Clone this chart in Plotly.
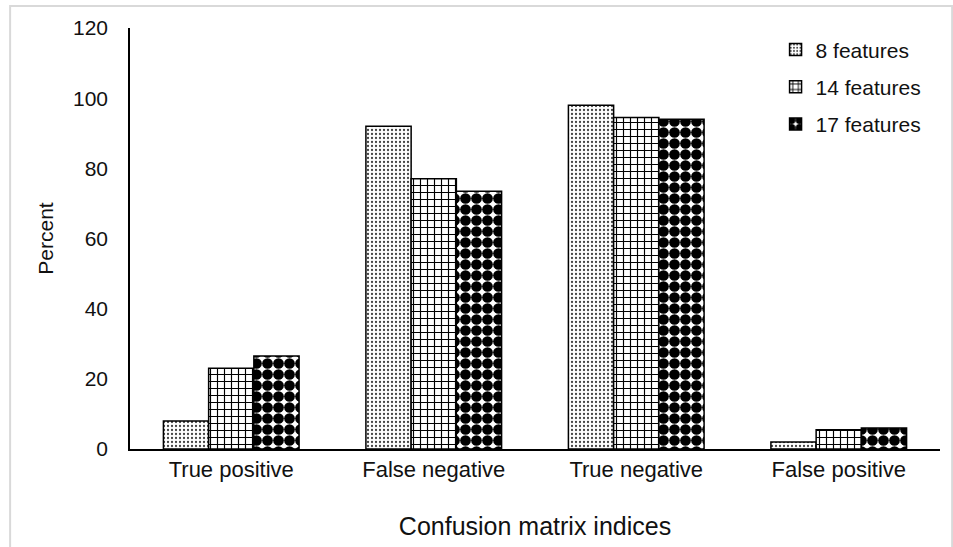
import plotly.graph_objects as go

categories = ["True positive", "False negative", "True negative", "False positive"]
series_names = ["8 features", "14 features", "17 features"]
vals_8 = [8, 92, 98, 2]
vals_14 = [23, 77, 94.5, 5.5]
vals_17 = [26.5, 73.5, 94, 6]
y_ticks = [0, 20, 40, 60, 80, 100, 120]

patterns = [
    dict(shape=".", fgcolor="#444444", bgcolor="white", size=4, solidity=0.25, fgopacity=1),
    dict(shape="+", fgcolor="black", bgcolor="white", size=7, solidity=0.3, fgopacity=1),
    dict(shape=".", fgcolor="black", bgcolor="white", size=11, solidity=0.75, fgopacity=1),
]

fig = go.Figure()
for i, (name, vals) in enumerate(zip(series_names, [vals_8, vals_14, vals_17])):
    fig.add_trace(go.Bar(
        x=categories, y=vals, name=name, legendgroup=name,
        marker=dict(color="white", pattern=patterns[i],
                    line=dict(color="black", width=1.5)),
    ))

font = "Liberation Sans, Arial, sans-serif"
fig.update_layout(
    width=953, height=547,
    margin=dict(l=130, r=13, t=28, b=98),
    paper_bgcolor="white", plot_bgcolor="white",
    barmode="group", bargap=0.33, bargroupgap=0,
    font=dict(family=font, size=21, color="#111111"),
    showlegend=True,
    legend=dict(x=0.797, y=0.997, xanchor="left", yanchor="top",
                font=dict(size=21), tracegroupgap=7,
                bgcolor="rgba(0,0,0,0)"),
    xaxis=dict(showline=True, linecolor="black", linewidth=1.5,
               showgrid=False, ticks="", tickfont=dict(size=22),
               title=dict(text="Confusion matrix indices", font=dict(size=25), standoff=36)),
    yaxis=dict(range=[0, 120], tickvals=y_ticks, showline=True, linecolor="black",
               linewidth=1.5, showgrid=False, zeroline=False, ticks="",
               ticklabelstandoff=16, tickfont=dict(size=21),
               title=dict(text="Percent", font=dict(size=21), standoff=14)),
    shapes=[dict(type="rect", xref="paper", yref="paper",
                 x0=-0.148, x1=1.015, y0=-0.3, y1=1.052,
                 line=dict(color="#d9d9d9", width=2), fillcolor="rgba(0,0,0,0)",
                 layer="below")],
)

fig.write_html("out.html")
